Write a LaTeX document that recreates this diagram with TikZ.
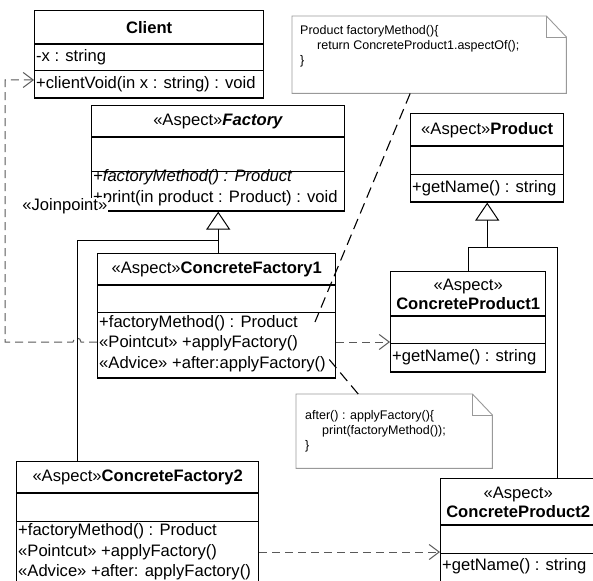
\documentclass[tikz,border=0pt]{standalone}
\usepackage{fontspec}
\setmainfont{Liberation Sans}
\usetikzlibrary{shapes.multipart,arrows.meta}

\definecolor{notegray}{gray}{0.6}
\definecolor{depgray}{gray}{0.35}

\newcommand{\classfont}{\fontsize{16.6}{20.5}\selectfont}
\newcommand{\notefont}{\fontsize{12.5}{15}\selectfont}
% class compartments: [shift]{width}{height}{text}
\newcommand{\ctitle}[3]{\parbox[c][#2pt][c]{#1pt}{\classfont\centering\baselineskip=19pt #3\par}}
\newcommand{\cbody}[4][0pt]{\parbox[c][#3pt][c]{#2pt}{\classfont\raggedright\leftskip=1.5pt\vspace*{#1}#4\par}}
% note outline with the folded corner
\newcommand{\notefold}[1]{%
  \draw[noteedge] (#1.north west) -- ([xshift=-20pt]#1.north east)
    -- ([yshift=-21pt]#1.north east) -- (#1.south east) -- (#1.south west) -- cycle;
  \draw[noteedge] ([xshift=-20pt]#1.north east) |- ([yshift=-21pt]#1.north east);
}

\tikzset{
  umlclass/.style={draw, line width=1.4pt, rectangle split, rectangle split parts=3,
    inner sep=0pt, anchor=north west, font=\classfont},
  umlnote/.style={inner sep=0pt, anchor=north west, font=\notefont},
  noteedge/.style={draw=notegray, line width=0.9pt},
  dep/.style={depgray, line width=1pt, dash pattern=on 8pt off 5pt,
    -{Straight Barb[length=10pt,width=15pt]}},
  notelink/.style={line width=1.1pt, dash pattern=on 11pt off 6pt},
  gen/.style={line width=1pt, -{Triangle[length=18pt,width=24pt,fill=white]}},
  genline/.style={line width=1pt},
}

\begin{document}
\begin{tikzpicture}[x=1pt, y=-1pt]
\useasboundingbox[fill=white] (0,0) rectangle (593,580);

% classes
\node[umlclass] (client) at (34,10) {\ctitle{229}{32}{\textbf{Client}}
  \nodepart{two}\cbody{229}{25}{-x : string}
  \nodepart{three}\cbody{229}{26}{+clientVoid(in x : string) : void}};

\node[umlclass] (factory) at (91,105) {\ctitle{253}{30}{«Aspect»\textbf{\textit{Factory}}}
  \nodepart{two}\cbody{253}{33}{}
  \nodepart{three}\cbody[-7pt]{253}{38}{\textit{+factoryMethod() : Product}\\+print(in product : Product) : void}};

\node[umlclass] (cf1) at (97,253) {\ctitle{238}{30}{«Aspect»\textbf{ConcreteFactory1}}
  \nodepart{two}\cbody{238}{26}{}
  \nodepart{three}\cbody[-3pt]{238}{64}{+factoryMethod() : Product\\«Pointcut» +applyFactory()\\«Advice» +after:applyFactory()}};

\node[umlclass] (cf2) at (16,461) {\ctitle{242}{30}{«Aspect»\textbf{ConcreteFactory2}}
  \nodepart{two}\cbody{242}{27}{}
  \nodepart{three}\cbody[-7pt]{242}{66}{+factoryMethod() : Product\\«Pointcut» +applyFactory()\\«Advice» +after: applyFactory()}};

\node[umlclass] (product) at (410,113) {\ctitle{153}{31}{«Aspect»\textbf{Product}}
  \nodepart{two}\cbody{153}{27}{}
  \nodepart{three}\cbody{153}{26}{+getName() : string}};

\node[umlclass] (cp1) at (390,271) {\ctitle{155}{43}{«Aspect»\\\textbf{ConcreteProduct1}}
  \nodepart{two}\cbody{155}{26}{}
  \nodepart{three}\cbody{155}{27}{+getName() : string}};

\node[umlclass] (cp2) at (440,478) {\ctitle{155}{45}{«Aspect»\\\textbf{ConcreteProduct2}}
  \nodepart{two}\cbody{155}{27}{}
  \nodepart{three}\cbody[-8pt]{155}{31}{+getName() : string}};

% notes
\node[umlnote] (note1) at (292,16) {\parbox[c][77pt][t]{274pt}{\notefont\leftskip=8pt\parindent=0pt
  \vspace*{9pt}Product factoryMethod()\{\\\hspace*{17pt}return ConcreteProduct1.aspectOf();\\\}\par}};
\notefold{note1}

\node[umlnote] (note2) at (296,394) {\parbox[c][74pt][t]{196pt}{\notefont\leftskip=9pt\parindent=0pt
  \vspace*{16pt}after() : applyFactory()\{\\\hspace*{17pt}print(factoryMethod());\\\}\par}};
\notefold{note2}

% stereotype label sits over the corner of Factory
\node[font=\classfont, anchor=east, inner sep=0.5pt, fill=white] (jp) at (108,206) {«Joinpoint»};

% rows and bends
\coordinate (cvrow) at (0,80);
\coordinate (cfrow) at (0,342);
\coordinate (cf2row) at (0,552);
\coordinate (fjoinrow) at (0,240);
\coordinate (pjoinrow) at (0,247);
\coordinate (leftrail) at (5,0);
\coordinate (cf2in) at ([xshift=61pt]cf2.north west);
\coordinate (cp2in) at ([xshift=117pt]cp2.north west);
\coordinate (hop) at (cf2in |- cfrow);
\coordinate (fmtip) at (315,322);
\coordinate (advtip) at (328,358);

% generalizations
\draw[genline] (cf2in) |- (factory.south |- fjoinrow);
\draw[gen] (factory.south |- cf1.north) -- (factory.south);
\draw[genline] (cp1.north) |- (cp2in |- pjoinrow) -- (cp2in);
\draw[gen] (product.south |- pjoinrow) -- (product.south);

% dependencies
\draw[dep] (cf1.west |- cfrow) -- ([xshift=4pt]hop) arc[start angle=0, end angle=180, radius=4pt]
  -- (leftrail |- cfrow) -- (leftrail |- cvrow) -- (client.west |- cvrow);
\draw[dep] (cf1.east |- cfrow) -- (cp1.west |- cfrow);
\draw[dep] (cf2.east |- cf2row) -- (cp2.west |- cf2row);

% note links
\draw[notelink] ([xshift=-19pt]note1.south) -- (fmtip);
\draw[notelink] ([xshift=-36pt]note2.north) -- (advtip);
\end{tikzpicture}
\end{document}
